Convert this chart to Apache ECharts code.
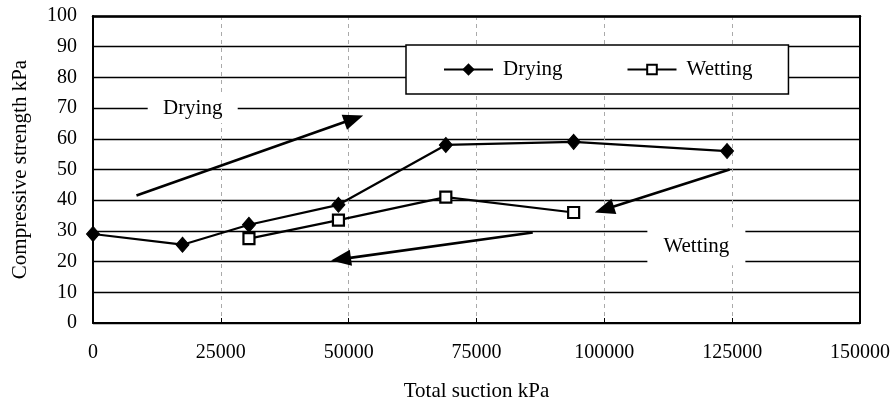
<!DOCTYPE html>
<html>
<head>
<meta charset="utf-8">
<script src="https://cdn.jsdelivr.net/npm/echarts@6/dist/echarts.min.js"></script>
<style>
html,body{margin:0;padding:0;background:#fff;}
#chart{width:896px;height:407px;}
</style>
</head>
<body>
<div id="chart"></div>
<script>
// Data
var xTicks = [0, 25000, 50000, 75000, 100000, 125000, 150000];
var yTicks = [0, 10, 20, 30, 40, 50, 60, 70, 80, 90, 100];
var dryingX = [0, 17500, 30500, 48000, 69000, 94000, 124000];
var dryingY = [29, 25.5, 32, 38.5, 58, 59, 56];
var wettingX = [30500, 48000, 69000, 94000];
var wettingY = [27.5, 33.5, 41, 36];
// annotation arrows (data coordinates: start, end)
var dryingArrow = [[8500, 41.5], [51000, 66.5]];
var wettingArrow1 = [[124500, 50], [100000, 37]];
var wettingArrow2 = [[86000, 29.5], [48500, 20.8]];
// annotation texts (data coordinates)
var dryingNote = {text: 'Drying', x: 19500, y: 70};
var wettingNote = {text: 'Wetting', x: 118000, y: 25};

var FONT = '"Liberation Serif", "Times New Roman", serif';

function pairs(xs, ys) { return xs.map(function (x, i) { return [x, ys[i]]; }); }

var arrowStyle = {color: '#000', width: 2.6, type: 'solid'};
function arrowLine(a) {
  return [{coord: a[0], symbol: 'none'}, {coord: a[1], symbol: 'triangle'}];
}

var chart = echarts.init(document.getElementById('chart'), null, {renderer: 'canvas'});
chart.setOption({
  animation: false,
  backgroundColor: '#fff',
  textStyle: {fontFamily: FONT, color: '#000'},
  grid: {left: 93, right: 36, top: 16, bottom: 83, show: false},
  legend: {
    left: 406, top: 45,
    padding: [14, 36, 14, 37],
    itemGap: 64, itemWidth: 49, itemHeight: 12,
    backgroundColor: '#fff', borderColor: '#000', borderWidth: 1.5,
    textStyle: {fontFamily: FONT, fontSize: 21, color: '#000', padding: [0, 0, 0, 5]},
    data: ['Drying', 'Wetting']
  },
  xAxis: [{
    type: 'value', min: xTicks[0], max: xTicks[xTicks.length - 1], interval: 25000,
    name: 'Total suction kPa', nameLocation: 'middle', nameGap: 58,
    nameTextStyle: {fontFamily: FONT, fontSize: 21, color: '#000'},
    axisLine: {show: true, lineStyle: {color: '#000', width: 2}},
    axisTick: {show: true, inside: true, length: 5, lineStyle: {color: '#000', width: 1}},
    axisLabel: {fontFamily: FONT, fontSize: 20, color: '#000', margin: 20,
      formatter: function (v) { return String(v); }},
    splitLine: {show: true, lineStyle: {color: '#aaa', width: 1, type: [4, 4]}}
  }, {
    type: 'value', position: 'top', min: xTicks[0], max: xTicks[xTicks.length - 1], interval: 25000,
    axisLine: {show: true, onZero: false, lineStyle: {color: '#000', width: 2.5}},
    axisTick: {show: false}, axisLabel: {show: false}, splitLine: {show: false}
  }],
  yAxis: [{
    type: 'value', min: yTicks[0], max: yTicks[yTicks.length - 1], interval: 10,
    name: 'Compressive strength kPa', nameLocation: 'middle', nameGap: 62, nameRotate: 90,
    nameTextStyle: {fontFamily: FONT, fontSize: 21, color: '#000'},
    axisLine: {show: true, lineStyle: {color: '#000', width: 2}},
    axisTick: {show: false},
    axisLabel: {fontFamily: FONT, fontSize: 20, color: '#000', margin: 16},
    splitLine: {show: true, lineStyle: {color: '#000', width: 1.3}}
  }, {
    type: 'value', position: 'right', min: yTicks[0], max: yTicks[yTicks.length - 1], interval: 10,
    axisLine: {show: true, onZero: false, lineStyle: {color: '#000', width: 2}},
    axisTick: {show: false}, axisLabel: {show: false}, splitLine: {show: false}
  }],
  series: [
    {
      name: 'Drying', type: 'line', data: pairs(dryingX, dryingY),
      symbol: 'diamond', symbolSize: [13, 15], showSymbol: true,
      lineStyle: {color: '#000', width: 2.2},
      itemStyle: {color: '#000', borderColor: '#000', borderWidth: 1},
      z: 5,
      markLine: {
        silent: true, animation: false,
        symbol: ['none', 'triangle'], symbolSize: [16, 20],
        label: {show: false},
        lineStyle: arrowStyle,
        data: [arrowLine(dryingArrow), arrowLine(wettingArrow1), arrowLine(wettingArrow2)]
      },
      markPoint: {
        silent: true, animation: false,
        symbol: 'rect',
        itemStyle: {color: '#fff', borderWidth: 0},
        label: {show: true, position: 'inside', fontFamily: FONT, fontSize: 21, color: '#000'},
        data: [
          {coord: [dryingNote.x, dryingNote.y], symbolSize: [90, 30], value: dryingNote.text,
           label: {formatter: dryingNote.text}},
          {coord: [wettingNote.x, wettingNote.y], symbolSize: [98, 38], value: wettingNote.text,
           label: {formatter: wettingNote.text}}
        ]
      }
    },
    {
      name: 'Wetting', type: 'line', data: pairs(wettingX, wettingY),
      symbol: 'rect', symbolSize: 11, showSymbol: true,
      lineStyle: {color: '#000', width: 2.2},
      itemStyle: {color: '#fff', borderColor: '#000', borderWidth: 2.2},
      z: 5
    }
  ]
});
</script>
</body>
</html>
